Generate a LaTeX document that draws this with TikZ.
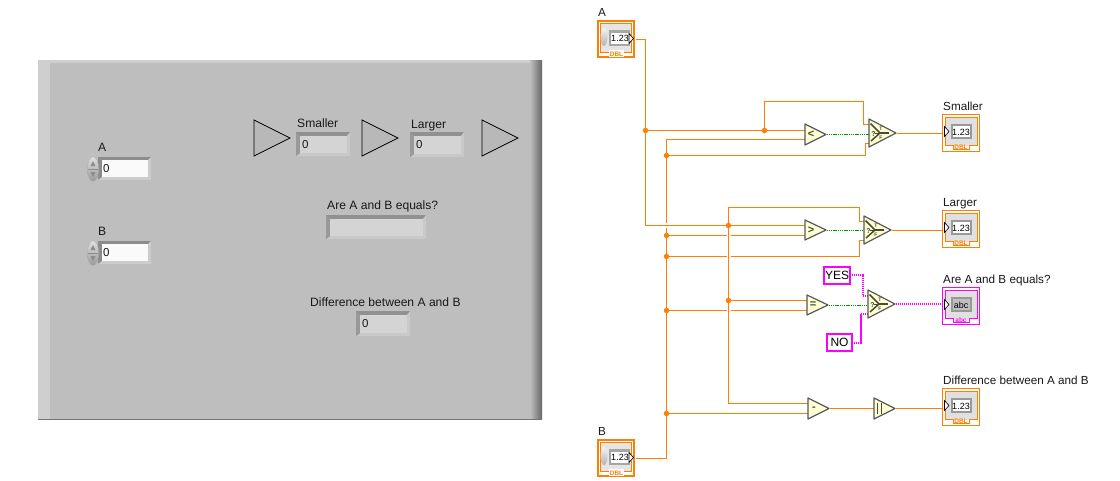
\documentclass[tikz,border=0pt]{standalone}
\usepackage{fontspec}
\setmainfont{Liberation Sans}
\usetikzlibrary{calc}
\definecolor{wireO}{HTML}{FF8000}
\definecolor{wireP}{HTML}{FF00FF}
\definecolor{wireG}{HTML}{009A00}
\definecolor{panelC}{HTML}{BEBEBE}
\definecolor{primC}{HTML}{FFFFD6}
\definecolor{iconC}{HTML}{4A4A30}
\tikzset{
  wire/.style={draw=wireO,line width=1.15pt},
  pwire/.style={draw=wireP,line width=2pt,dash pattern=on 1.5pt off .5pt},
  gwire/.style={draw=wireG,line width=1.2pt,dash pattern=on 1.5pt off .7pt},
  prim/.style={draw=black!65,fill=primC,line width=1.2pt,line join=round},
  lbl/.style={anchor=base west,inner sep=0pt,font=\fontsize{12.1}{14}\selectfont,text=black!90},
  blbl/.style={anchor=base west,inner sep=0pt,font=\fontsize{11.7}{14}\selectfont,text=black!90},
  val/.style={anchor=west,inner sep=0pt,font=\fontsize{11.5}{13}\selectfont,text=black!90},
  opsym/.style={inner sep=0pt,font=\fontsize{11}{11}\bfseries\selectfont,text=iconC},
  tinytxt/.style={inner sep=0pt,font=\fontsize{9}{9}\selectfont,text=black},
  tabtxt/.style={inner sep=0pt,font=\fontsize{6.5}{6.5}\bfseries\selectfont},
  const/.style={draw=wireP,line width=2.5pt,fill=white,inner sep=0pt,font=\fontsize{12}{14}\selectfont,text=black},
  panelarrow/.style={draw=black,fill=black!28,line width=.7pt},
  jn/.style={fill=wireO,draw=none,minimum size=5.5pt,inner sep=0pt,shape=circle},
}
\newcommand{\sunken}[4]{%
  \fill[black!43] (#1,#2) rectangle (#3,#4);
  \fill[black!21] (#1,#4) -- (#1+4,#4-3) -- (#3-3,#4-3) -- (#3-3,#2+4) -- (#3,#2) -- (#3,#4) -- cycle;
  \fill[black!40] (#1,#2) -- (#1+4,#2+4) -- (#1+4,#4-3) -- (#1,#4) -- cycle;
  \fill[black!17] (#1+4,#2+4) rectangle (#3-3,#4-3);
}
\newcommand{\numctl}[1]{%
  \fill[black!45] (98,#1) rectangle (151,#1+23);
  \fill[black!20] (98,#1+23) -- (102,#1+20) -- (148,#1+20) -- (148,#1+3) -- (151,#1) -- (151,#1+23) -- cycle;
  \fill[black!2] (102,#1+3) rectangle (148,#1+20);
  \shade[top color=black!12,bottom color=black!40,draw=black!35,line width=.3pt] (93,#1+12) ellipse [x radius=5.7,y radius=12.3];
  \draw[black!45,line width=.6pt] (88,#1+12) -- (98,#1+12);
  \fill[black!45] (90.5,#1+9) -- (95.5,#1+9) -- (93,#1+4) -- cycle;
  \fill[black!45] (90.5,#1+15) -- (95.5,#1+15) -- (93,#1+20) -- cycle;
  \node[val] at (103,#1+12) {0};
}
\newcommand{\prm}[5]{%
  \draw[prim] (#2,#3-#5) -- (#2+#4,#3) -- (#2,#3+#5) -- cycle;
  \coordinate (#1) at (#2+#4,#3);
}
\newcommand{\selicon}[2]{%
  \begin{scope}[shift={(#1,#2)}]
  \draw[iconC,line width=1.5pt] (1.5,-9.5) -- (11,0) -- (2,8);
  \draw[iconC,line width=1pt] (6,0) -- (11,0);
  \draw[iconC,line width=2.2pt] (11,0) -- (20,0);
  \node[inner sep=0pt,font=\fontsize{7}{7}\bfseries\selectfont,text=iconC] at (4.5,1.5) {?};
  \node[inner sep=0pt,font=\fontsize{5}{5}\bfseries\selectfont,text=iconC] at (12,-4) {T};
  \node[inner sep=0pt,font=\fontsize{5}{5}\bfseries\selectfont,text=iconC] at (12,4.5) {F};
  \end{scope}
}
\newcommand{\indic}[5]{%
  \begin{scope}[shift={(#1,#2)}]
  \draw[#3,line width=.9pt,fill=white] (.5,.5) rectangle (37.5,37.5);
  \draw[#3,line width=.9pt,fill=black!12] (3,3) -- (35,3) -- (35,31) -- (27,31) -- (27,35) -- (11,35) -- (11,31) -- (3,31) -- cycle;
  \fill[white] (11.5,31.5) rectangle (26.5,34.5);
  \node[tabtxt,text=#3] at (19,33) {#5};
  \fill[black!40] (9,10) rectangle (30,25);
  \fill[#4] (11,12) rectangle (28,23);
  \draw[black,fill=white,line width=.6pt] (2.5,12.5) -- (7,17.5) -- (2.5,22.5) -- cycle;
  \end{scope}
}
\newcommand{\ctrlterm}[2]{%
  \begin{scope}[shift={(#1,#2)}]
  \draw[wireO,line width=2.4pt,fill=white] (1.2,1.2) rectangle (36.8,36.8);
  \draw[wireO,line width=.9pt,fill=black!10] (3.5,3.5) rectangle (34.5,32);
  \fill[white] (12,30) rectangle (27,37);
  \node[tabtxt,text=wireO] at (19.5,34) {DBL};
  \fill[black!35] (12,10) rectangle (33,26);
  \fill[white] (14,12.5) rectangle (32,24);
  \shade[top color=black!5,bottom color=black!30] (7,17) ellipse [x radius=3.5,y radius=9];
  \node[tinytxt] at (23,18.5) {1.23};
  \draw[black,fill=white,line width=.6pt] (32,13.5) -- (36.5,18.5) -- (32,23.5) -- cycle;
  \end{scope}
}
\begin{document}
\begin{tikzpicture}[x=1pt,y=-1pt]
\useasboundingbox (0,0) rectangle (1120,480);
\fill[white] (0,0) rectangle (1120,480);
% ---------- front panel
\fill[panelC] (38,60) rectangle (542,420);
\fill[black!19] (38,60) rectangle (50,420);
\fill[black!19] (38,60) rectangle (542,63);
\shade[left color=panelC,right color=black!60] (530,60) rectangle (542,418);
\fill[black!55] (38,418.5) rectangle (542,420);
\node[lbl] (fA) at (98,151) {A};
\numctl{157}
\node[lbl] (fB) at (98,235) {B};
\numctl{241}
\draw[panelarrow] (254,120) -- (290,138) -- (254,156) -- cycle;
\draw[panelarrow] (362,120) -- (398,138) -- (362,156) -- cycle;
\draw[panelarrow] (482,120) -- (518,138) -- (482,156) -- cycle;
\node[lbl] (fS) at (297,127) {Smaller};
\sunken{296}{132}{350}{156}
\node[val] at (302,145) {0};
\node[lbl] (fL) at (411,128) {Larger};
\sunken{410}{132}{464}{157}
\node[val] at (416,145) {0};
\node[lbl] (fE) at (327,209) {Are A and B equals?};
\sunken{326}{215}{426}{239}
\node[lbl] (fD) at (310,306) {Difference between A and B};
\sunken{356}{311}{410}{336}
\node[val] at (362,324) {0};
% ---------- block diagram coordinates
\begin{scope}[shift={(.5,.5)}]
\coordinate (Aout) at (635,39);
\coordinate (Bout) at (635,458);
\coordinate (jA1) at (645,130);
\coordinate (jA2) at (764,130);
\coordinate (jA3) at (728,225);
\coordinate (jA4) at (728,300);
\coordinate (jB1) at (666,155);
\coordinate (jB2) at (666,235);
\coordinate (jB3) at (666,256);
\coordinate (jB4) at (666,310);
\coordinate (jB5) at (666,413);
% wires
\draw[wire] (Aout) -| (645,225) -- (jA3) -- (805,225);
\draw[wire] (jA1) -- (jA2) -- (805,130);
\draw[wire] (jA2) |- (863,101) |- (869,124);
\draw[wire] (Bout) -| (666,139) -- (805,139);
\draw[wire] (jB1) -- (865,155) |- (869,143);
\draw[wire] (jB2) -- (805,235);
\draw[wire] (jB3) -- (859,256) |- (864,240);
\draw[wire] (jA3) |- (859,207) |- (864,221);
\draw[wire] (jA3) |- (808,403);
\draw[wire] (jA4) -- (807,300);
\draw[wire] (jB4) -- (807,310);
\draw[wire] (jB5) -- (808,413);
% wire bridges
\fill[white] (664,222.5) rectangle (668,227.5);
\draw[wire] (660,225) -- (672,225);
\fill[white] (726,233) rectangle (730,237);
\fill[white] (726,254) rectangle (730,258);
\fill[white] (726,308) rectangle (730,312);
\draw[wire] (728,232) -- (728,314);
% junctions
\foreach \j in {jA1,jA2,jA3,jA4,jB1,jB2,jB3,jB4,jB5} \node[jn] at (\j) {};
% outputs
\draw[wire] (896,133) -- (944,133);
\draw[wire] (891,230) -- (944,230);
\draw[wire] (829,408) -- (874,408);
\draw[wire] (895,408) -- (944,408);
\draw[gwire] (826,134) -- (869,134);
\draw[gwire] (826,230) -- (864,230);
\draw[gwire] (828,305) -- (868,305);
\draw[pwire] (851,274) -| (862,295) -- (868,295);
\draw[pwire] (853,342) -| (860,313) -- (868,313);
\draw[pwire] (895,303.5) -- (945,303.5);
\end{scope}
% primitives
\prm{lt}{805}{134.5}{21}{10.5}
\node[opsym] at (811,134.5) {<};
\prm{gt}{805}{230}{21}{10}
\node[opsym] at (811,230) {>};
\prm{eq}{807}{305}{21}{10}
\node[opsym] at (813,305) {=};
\prm{sub}{808}{408.5}{21}{10.5}
\node[opsym] at (814,408.5) {-};
\prm{abs}{874}{408.5}{21}{10.5}
\draw[iconC,line width=1.4pt] (877.5,403) -- (877.5,414) (881.5,403) -- (881.5,414);
\prm{s1}{869}{133}{27}{14}
\selicon{869}{133}
\prm{s2}{864}{230}{27}{14}
\selicon{864}{230}
\prm{s3}{868}{304}{27}{14}
\selicon{868}{304}
% constants
\node[const,minimum width=26pt,minimum height=17pt] (yes) at (837,275.5) {YES};
\node[const,minimum width=25pt,minimum height=17pt] (no) at (839.5,342.5) {NO};
% terminals
\ctrlterm{597}{20}
\ctrlterm{597}{439}
\indic{942}{114}{wireO}{white}{DBL}
\node[tinytxt] at (961,132) {1.23};
\indic{942}{210}{wireO}{white}{DBL}
\node[tinytxt] at (961,228) {1.23};
\indic{942}{287}{wireP}{black!25}{abc}
\node[tinytxt] at (961,305) {abc};
\indic{942}{388}{wireO}{white}{DBL}
\node[tinytxt] at (961,406) {1.23};
% labels
\node[blbl] (bA) at (598,16) {A};
\node[blbl] (bB) at (598,435) {B};
\node[blbl] (bS) at (943,110) {Smaller};
\node[blbl] (bL) at (943,206) {Larger};
\node[blbl] (bE) at (943,283) {Are A and B equals?};
\node[blbl] (bD) at (943,384) {Difference between A and B};
\end{tikzpicture}
\end{document}
